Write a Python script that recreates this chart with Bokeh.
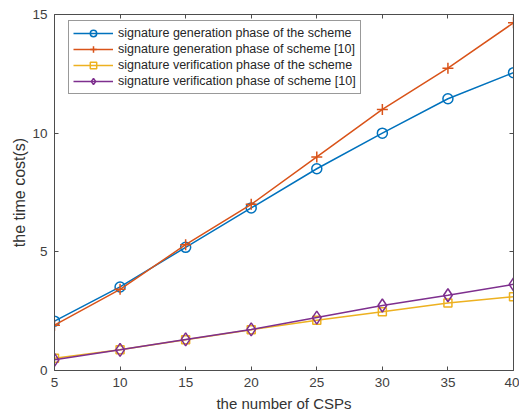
from bokeh.plotting import figure
from bokeh.models import LinearAxis, Range1d, Legend, LegendItem, FixedTicker
from bokeh.embed import file_html
from bokeh.resources import INLINE

csps = [5, 10, 15, 20, 25, 30, 35, 40]
gen_ours = [2.08, 3.52, 5.19, 6.85, 8.50, 10.0, 11.45, 12.55]
gen_ref10 = [1.91, 3.42, 5.30, 7.00, 9.00, 11.0, 12.74, 14.65]
ver_ours = [0.52, 0.87, 1.30, 1.72, 2.12, 2.48, 2.84, 3.11]
ver_ref10 = [0.45, 0.87, 1.31, 1.73, 2.23, 2.74, 3.17, 3.63]
labels = ["signature generation phase of the scheme",
          "signature generation phase of scheme [10]",
          "signature verification phase of the scheme",
          "signature verification phase of scheme [10]"]
x_ticks = [5, 10, 15, 20, 25, 30, 35, 40]
y_ticks = [0, 5, 10, 15]

FONT = "Liberation Sans"
AX = "#4d4d4d"

p = figure(width=519, height=414, output_backend="svg", toolbar_location=None,
           x_range=Range1d(5, 40), y_range=Range1d(0, 15),
           min_border_left=54, min_border_right=6, min_border_top=14, min_border_bottom=44)
p.outline_line_color = None
p.xgrid.visible = False
p.ygrid.visible = False

def style(ax, labels_on=True):
    ax.axis_line_color = AX
    ax.major_tick_line_color = AX
    ax.major_tick_in = 4
    ax.major_tick_out = 0
    ax.minor_tick_line_color = None
    ax.major_label_text_color = "#404040"
    ax.major_label_text_font = FONT
    ax.major_label_text_font_size = "13.5px"
    ax.major_label_standoff = 7 if labels_on else 0
    ax.axis_label_text_font = FONT
    ax.axis_label_text_font_style = "normal"
    ax.axis_label_text_color = "#333333"

p.xaxis.ticker = FixedTicker(ticks=x_ticks)
p.yaxis.ticker = FixedTicker(ticks=y_ticks)
p.xaxis.axis_label = "the number of CSPs"
p.yaxis.axis_label = "the time cost(s)"
style(p.xaxis[0]); style(p.yaxis[0])
p.xaxis.axis_label_text_font_size = "15px"
p.yaxis.axis_label_text_font_size = "16px"
p.xaxis.axis_label_standoff = 5
p.yaxis.axis_label_standoff = 1

top = LinearAxis(ticker=FixedTicker(ticks=x_ticks),
                 major_label_overrides={t: "" for t in x_ticks})
right = LinearAxis(ticker=FixedTicker(ticks=y_ticks),
                   major_label_overrides={t: "" for t in y_ticks})
style(top, False); style(right, False)
top.major_label_text_font_size = "1px"
right.major_label_text_font_size = "1px"
p.add_layout(top, "above")
p.add_layout(right, "right")

colors = ["#0072BD", "#D95319", "#EDB120", "#7E2F8E"]
series = [gen_ours, gen_ref10, ver_ours, ver_ref10]
markers = ["circle", "cross", "square", "diamond"]
sizes = [10, 11, 8, 13]
items = []
for ys, c, m, s, lab in zip(series, colors, markers, sizes, labels):
    l = p.line(csps, ys, line_color=c, line_width=1.5)
    sc = p.scatter(csps, ys, marker=m, size=s, line_color=c, fill_color=None, line_width=1.5)
    items.append(LegendItem(label=lab, renderers=[l, sc]))

leg = Legend(items=items, location=(14, 276))
leg.margin = 0
leg.label_text_font = FONT
leg.label_text_font_size = "12.5px"
leg.label_text_color = "#262626"
leg.glyph_width = 40
leg.glyph_height = 16
leg.label_height = 16
leg.spacing = 0
leg.padding = 4
leg.label_standoff = 5
leg.border_line_color = "#333333"
leg.border_line_width = 1
leg.background_fill_color = "white"
p.add_layout(leg)

open("out.html", "w").write(file_html(p, INLINE))
